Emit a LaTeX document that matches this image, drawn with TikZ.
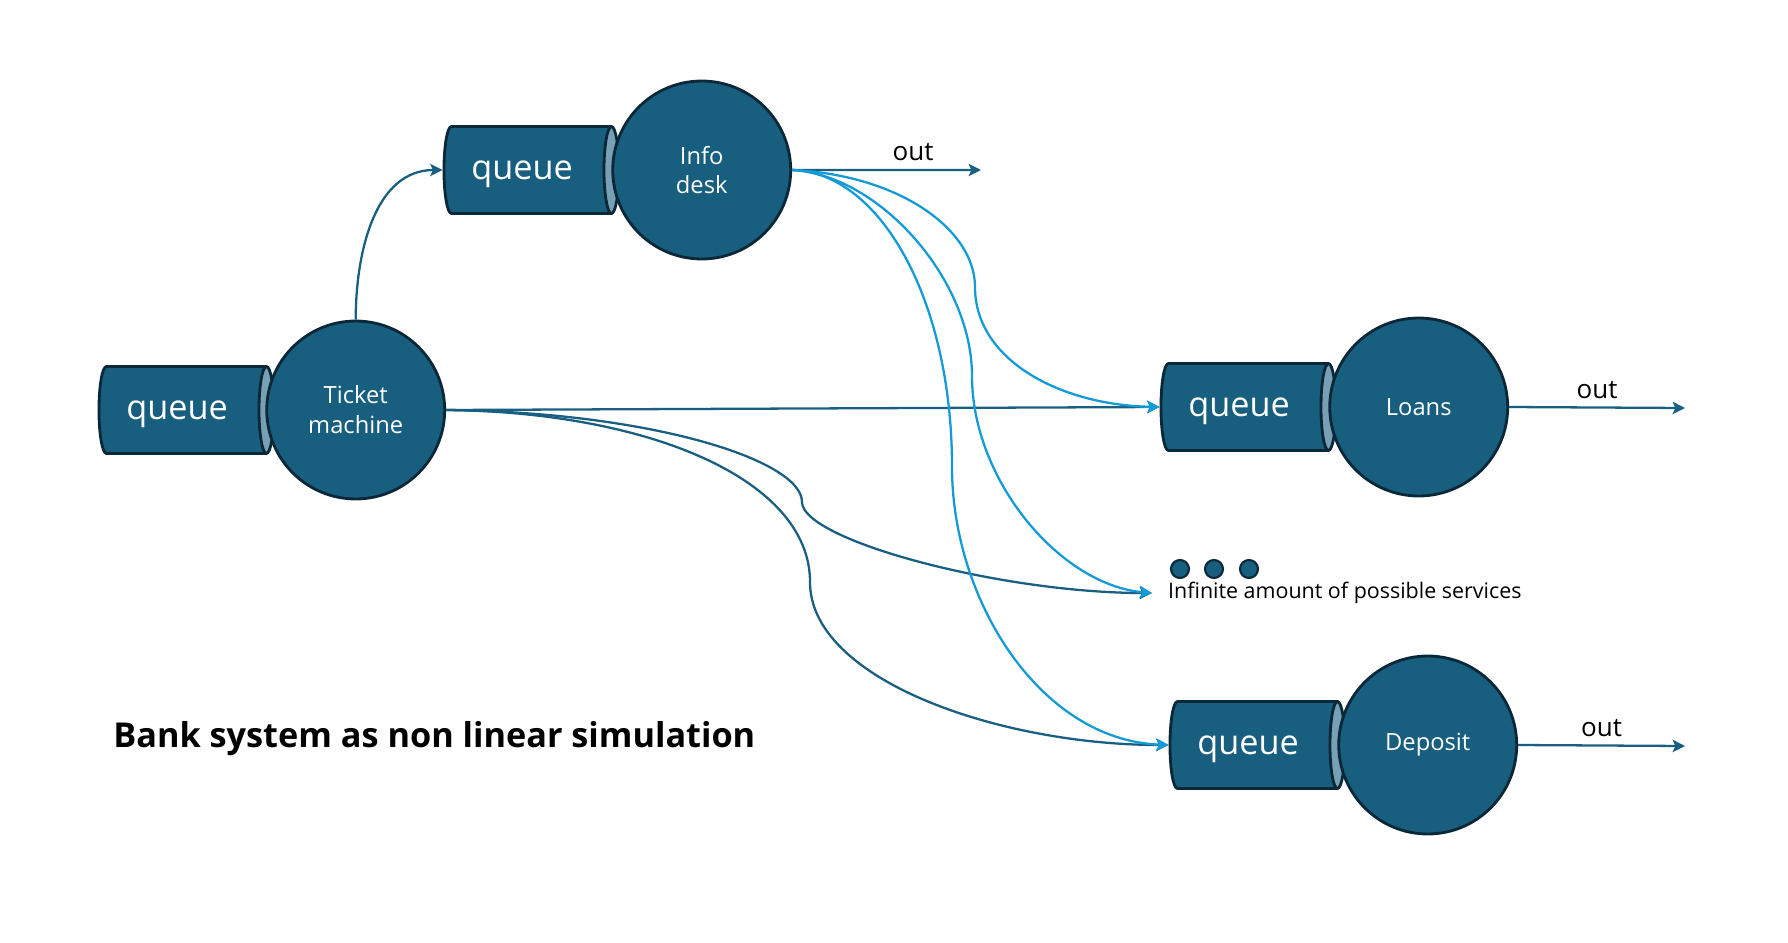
\documentclass[tikz,border=0pt]{standalone}
\usepackage{fontspec}
\setmainfont{Open Sans}
\usepackage{tikz}
\usetikzlibrary{positioning, arrows.meta, shapes.geometric}
\definecolor{bankfill}{HTML}{175E7F}
\definecolor{bankline}{HTML}{0A2837}
\definecolor{capfill}{HTML}{78A0B4}
\definecolor{flowdark}{HTML}{195F82}
\definecolor{flowlight}{HTML}{149BD7}

\begin{document}
\begin{tikzpicture}[x=0.02cm, y=-0.02cm,
    server/.style={circle, draw=bankline, line width=1.6pt, fill=bankfill,
      minimum size=3.56cm, inner sep=0pt, text=white, align=center,
      font=\fontsize{13.5}{17}\selectfont},
    queue/.style={cylinder, draw=bankline, line width=1.6pt,
      cylinder uses custom fill, cylinder body fill=bankfill,
      cylinder end fill=capfill, aspect=0.8,
      minimum width=1.74cm, minimum height=3.5cm, inner sep=0pt,
      text=white, text depth=0pt, font=\fontsize{19.5}{22}\selectfont,
      execute at end node=\hspace*{0.2cm}},
    dot/.style={circle, draw=bankline, line width=1.2pt, fill=bankfill,
      minimum size=0.36cm, inner sep=0pt},
    flow/.style={-{Stealth[length=7pt,width=7pt,inset=1.5pt]},
      line width=1.3pt, draw=flowdark},
    branch/.style={flow, draw=flowlight},
    outlabel/.style={above=1pt, font=\fontsize{14.8}{17}\selectfont}]
  \useasboundingbox (0,0) rectangle (1788,943);

  % queues and their servers
  \node[queue] (qtm) at (182,410) {queue};
  \node[server, right=-0.20cm of qtm] (tm) {Ticket\\machine};

  \node[queue] (qinfo) at (527,170) {queue};
  \node[server, right=-0.18cm of qinfo] (info) {Info\\desk};

  \node[queue] (qloans) at (1244,407) {queue};
  \node[server, right=-0.18cm of qloans] (loans) {Loans};

  \node[queue] (qdep) at (1253,745) {queue};
  \node[server, right=-0.18cm of qdep] (dep) {Deposit};

  % the open end of possible services
  \foreach \i/\x in {1/1180, 2/1214, 3/1249}
    \node[dot] (d\i) at (\x,569) {};
  \node[anchor=west, inner xsep=9pt, inner ysep=0pt,
    font=\fontsize{12.2}{14}\selectfont] (inf) at (1152,593)
    {Infinite amount of possible services};

  \node[anchor=west, inner sep=0pt, font=\bfseries\fontsize{19.5}{23}\selectfont]
    (title) at (113,739) {Bank system as non linear simulation};

  % exits
  \coordinate (infoout) at (981,170);
  \coordinate (loansout) at (1685,408);
  \coordinate (depout) at (1685,746);
  \draw[flow] (info.east) -- (infoout) node[outlabel, pos=0.64] {out};
  \draw[flow] (loans.east) -- (loansout) node[outlabel, midway] {out};
  \draw[flow] (dep.east) -- (depout) node[outlabel, midway] {out};

  % from the ticket machine
  \draw[flow] (tm.north) to[out=90, in=180] (qinfo.west);
  \draw[flow] (tm.east) -- (qloans.west);
  \draw[flow] (tm.east) .. controls (650,412) and (802,460) .. (802,502)
    .. controls (802,540) and (1000,593) .. (inf.west);
  \draw[flow] (tm.east) .. controls (650,412) and (810,480) .. (810,582)
    .. controls (810,680) and (1000,745) .. (qdep.west);

  % from the info desk
  \draw[branch] (info.east) .. controls (900,175) and (975,230) .. (975,287)
    .. controls (975,360) and (1060,405) .. (qloans.west);
  \draw[branch] (info.east) .. controls (880,175) and (972,280) .. (972,376)
    .. controls (972,480) and (1060,585) .. (inf.west);
  \draw[branch] (info.east) .. controls (880,172) and (952,300) .. (952,467)
    .. controls (952,600) and (1040,740) .. (qdep.west);
\end{tikzpicture}
\end{document}
